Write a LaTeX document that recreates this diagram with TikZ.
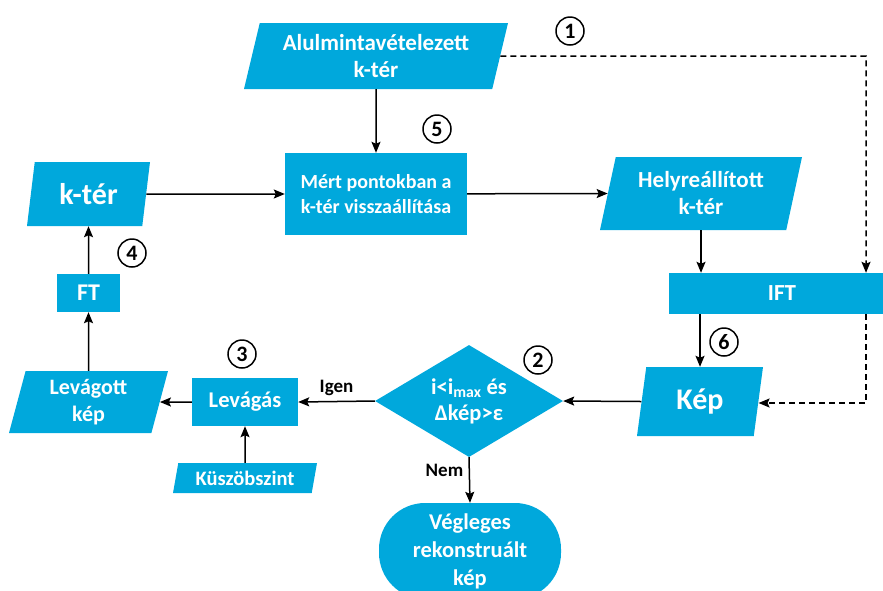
\documentclass[tikz,border=0pt]{standalone}
\usepackage{fontspec}
\setmainfont{Carlito}
\usetikzlibrary{shapes.geometric,arrows.meta}
\definecolor{kblue}{RGB}{0,168,220}
\tikzset{
  box/.style={rectangle, fill=kblue, text=white, inner sep=0pt, align=center},
  iobox/.style={trapezium, trapezium left angle=70, trapezium right angle=110,
    trapezium stretches body, fill=kblue, text=white, inner sep=0pt, align=center},
  arr/.style={line width=1.5pt, -{Stealth[length=11pt,width=9pt,inset=2pt]}},
  dasharr/.style={arr, dash pattern=on 6pt off 4pt},
  num/.style={circle, draw, line width=1.5pt, minimum size=28pt, inner sep=0pt,
    font=\fontsize{22}{22}\selectfont\bfseries},
  lbl/.style={font=\fontsize{19}{19}\selectfont\bfseries}
}
\begin{document}
\begin{tikzpicture}[x=1pt,y=-1pt]
        \useasboundingbox (0,0) rectangle (883,590);
        \node[iobox, minimum width=264pt, minimum height=66pt,
          font=\fontsize{23}{27}\selectfont\bfseries] (alul) at (376,56)
          {Alulmintavételezett\\k-tér};
        \node[box, minimum width=182pt, minimum height=82pt,
          font=\fontsize{20}{25}\selectfont\bfseries] (mert) at (376,194)
          {Mért pontokban a\\k-tér visszaállítása};
        \node[iobox, minimum width=123pt, minimum height=64pt,
          font=\fontsize{30}{30}\selectfont\bfseries] (kter) at (88.5,194) {k-tér};
        \node[iobox, minimum width=202pt, minimum height=73pt,
          font=\fontsize{23}{27}\selectfont\bfseries] (helyre) at (701,193.5)
          {Helyreállított\\k-tér};
        \node[box, minimum width=226pt, minimum height=41pt,
          font=\fontsize{23}{23}\selectfont\bfseries] (ift) at (782,293.5) {IFT};
        \node[iobox, minimum width=126pt, minimum height=69pt,
          font=\fontsize{30}{30}\selectfont\bfseries] (kep) at (700,401.5) {Kép};
        \node[diamond, fill=kblue, text=white, inner sep=0pt, align=center,
          minimum width=188pt, minimum height=112pt, aspect=1.68,
          font=\fontsize{22.5}{26}\selectfont\bfseries] (cond) at (469,401)
          {i<i\textsubscript{max} és\\Δkép>ε};
        \node[box, minimum width=106pt, minimum height=48pt,
          font=\fontsize{22.5}{22.5}\selectfont\bfseries] (cut) at (245,402) {Levágás};
        \node[iobox, minimum width=159pt, minimum height=62pt,
          font=\fontsize{22}{27}\selectfont\bfseries] (cutimg) at (88.5,402)
          {Levágott\\kép};
        \node[iobox, minimum width=144pt, minimum height=30pt,
          font=\fontsize{20.5}{20.5}\selectfont\bfseries] (thresh) at (245,478) {Küszöbszint};
        \node[box, minimum width=63pt, minimum height=38pt,
          font=\fontsize{24}{24}\selectfont\bfseries] (ft) at (88.5,293) {FT};
        \node[box, minimum width=182pt, minimum height=96pt, rounded corners=46pt,
          font=\fontsize{22.5}{28}\selectfont\bfseries] (final) at (470,551)
          {Végleges\\rekonstruált\\kép};
        \coordinate (bendA) at (866,56);
        \coordinate (bendB) at (866,403);
        \draw[arr] (alul) -- (mert);
        \draw[arr] (kter) -- (mert);
        \draw[arr] (mert) -- (helyre.west);
        \draw[arr] (helyre.south) -- (helyre.south |- ift.north);
        \draw[arr] (kep.north |- ift.south) -- (kep.north);
        \draw[arr] (kep.west) -- (cond.east);
        \draw[arr] (cond.west) -- (cut.east) node[lbl, midway, above=2pt] {Igen};
        \draw[arr] (cut.west) -- (cutimg.east);
        \draw[arr] (thresh.north) -- (cut.south);
        \draw[arr] (cutimg.north) -- (ft.south);
        \draw[arr] (ft.north) -- (kter.south);
        \draw[arr] (cond.south) -- (final.north) node[lbl, pos=0.3, left=2pt] {Nem};
        \draw[dasharr] (alul.east) -- (bendA) -- (bendA |- ift.north);
        \draw[dasharr] (bendB |- ift.south) -- (bendB) -- (kep.east |- bendB);
        \node[num] (n1) at (570,31) {1};
        \node[num] (n2) at (538,360) {2};
        \node[num] (n3) at (242,354) {3};
        \node[num] (n4) at (132,253) {4};
        \node[num] (n5) at (437,129) {5};
        \node[num] (n6) at (724,342) {6};
    \end{tikzpicture}
\end{document}
